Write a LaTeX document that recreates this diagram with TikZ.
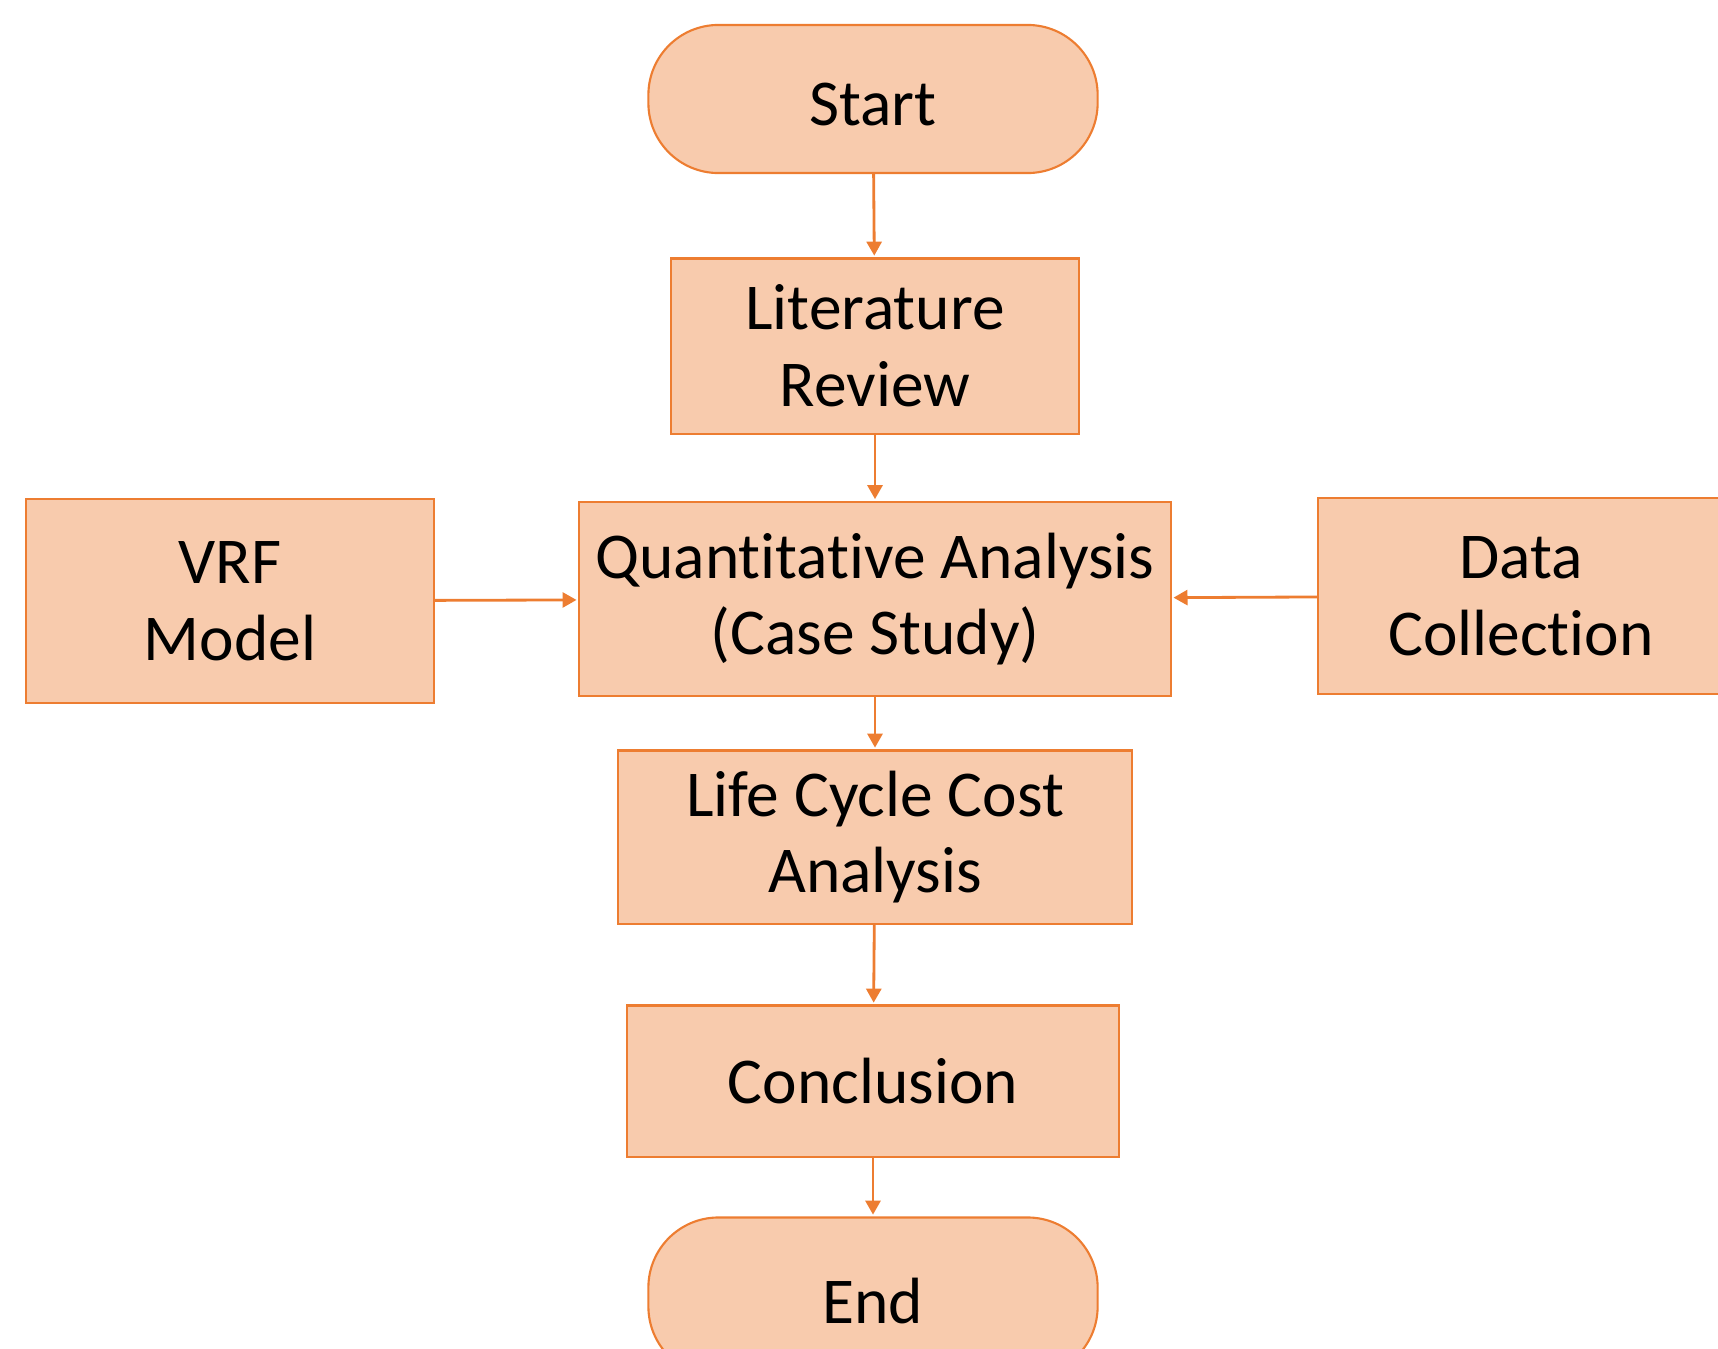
\documentclass[tikz,border=0pt]{standalone}
\usepackage{fontspec}
\setmainfont{Carlito}[Ligatures=NoCommon]
\usetikzlibrary{arrows.meta}
\definecolor{boxfill}{HTML}{F8CBAD}
\definecolor{boxline}{HTML}{ED7D31}

\begin{document}
\begin{tikzpicture}[shorten >=0.5pt,-{Triangle[length=0.14cm,width=0.15cm]}]
  \def\f{0.01}

\tikzstyle{block}=[rectangle,draw=boxline,fill=boxfill,line width=0.6pt,align=center,inner sep=0pt,font=\fontsize{18.6}{21.8}\selectfont]
\tikzstyle{term}=[block,rounded corners=0.7cm,minimum width=4.49cm,minimum height=1.48cm,text height=0.54cm]
\tikzstyle{flow}=[draw=boxline,line width=0.8pt]

\useasboundingbox (0,0) rectangle (1718*\f,-1348*\f);
\clip (0,0) rectangle (1718*\f,-1348*\f);

\node[term] (start) at (873*\f,-99*\f) {Start};
\node[block][minimum width=4.07cm,minimum height=1.75cm] (lit) at (875*\f,-346*\f) {Literature\\Review};
\draw[flow] (start) -- (lit);
\node[block][minimum width=5.91cm,minimum height=1.94cm] (quant) at (875*\f,-599*\f) {Quantitative Analysis\\(Case Study)};
\draw[flow] (lit) -- (quant);
\node[block][minimum width=4.07cm,minimum height=2.04cm] (vrf) at (230*\f,-601*\f) {VRF\\Model};
\draw[flow] (vrf) -- (quant);
\node[block][minimum width=4.06cm,minimum height=1.96cm] (data) at (1521*\f,-596*\f) {Data\\Collection};
\draw[flow] (data) -- (quant);
\node[block][minimum width=5.13cm,minimum height=1.73cm] (lcc) at (875*\f,-837*\f) {Life Cycle Cost\\Analysis};
\draw[flow] (quant) -- (lcc);
\node[block][minimum width=4.91cm,minimum height=1.51cm] (concl) at (873*\f,-1081*\f) {Conclusion};
\draw[flow] (lcc) -- (concl);
\node[term][minimum height=1.59cm] (end) at (873*\f,-1297*\f) {End};
\draw[flow] (concl) -- (end);
\end{tikzpicture}
\end{document}
